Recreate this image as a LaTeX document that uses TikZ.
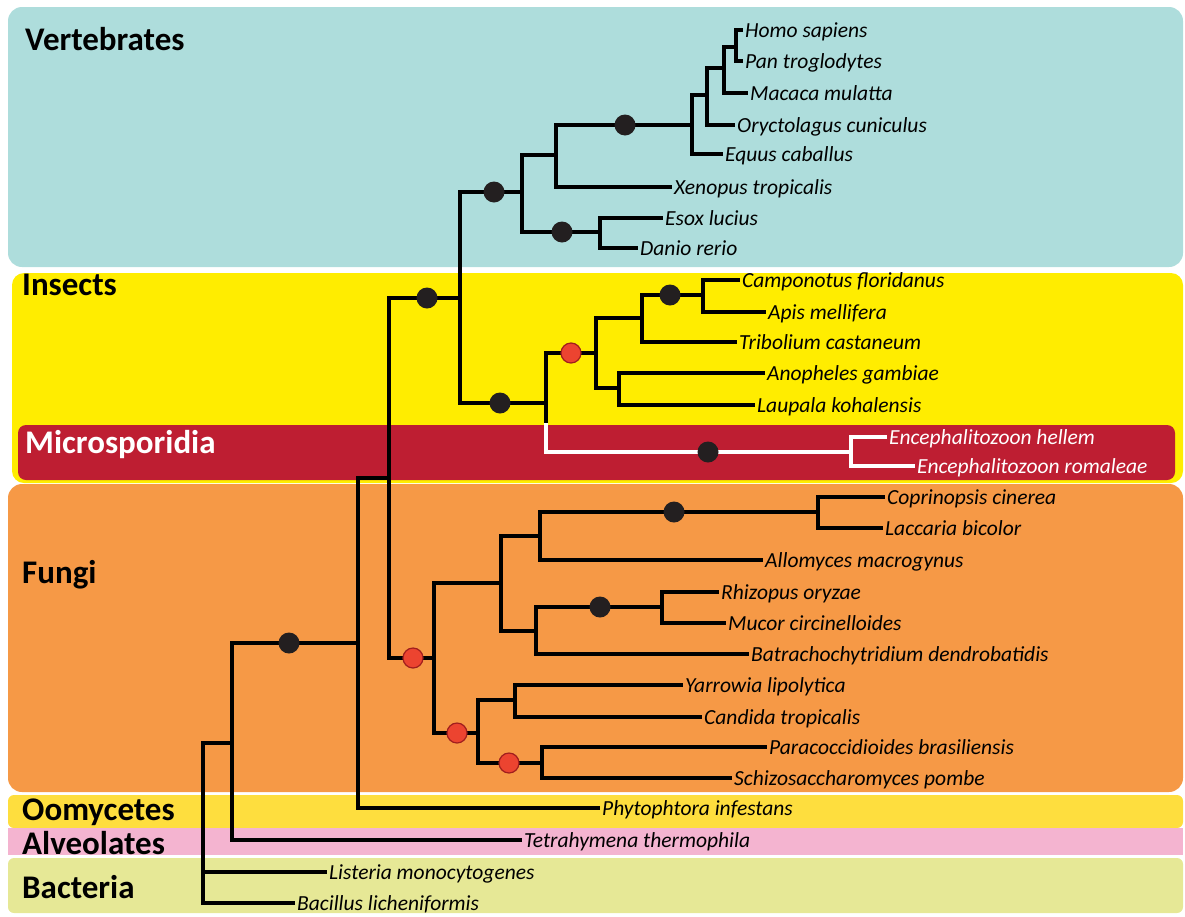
\documentclass[tikz,border=0pt]{standalone}
\usepackage{fontspec}
\setmainfont{Carlito}
\definecolor{vertband}{RGB}{174,221,220}
\definecolor{insband}{RGB}{255,237,0}
\definecolor{micband}{RGB}{190,30,50}
\definecolor{fungband}{RGB}{246,153,70}
\definecolor{oomyband}{RGB}{254,222,62}
\definecolor{alveband}{RGB}{244,180,208}
\definecolor{bactband}{RGB}{230,232,150}
\definecolor{dotred}{RGB}{236,68,48}
\definecolor{dotedge}{RGB}{160,30,30}
\definecolor{dotblack}{RGB}{35,31,32}
\tikzset{
  branch/.style={line width=3.4pt, line cap=rect, color=black},
  whitebranch/.style={branch, color=white},
  leaf/.style={anchor=west, inner xsep=4pt, inner ysep=0pt, text height=14pt, text depth=0pt,
    font=\fontsize{21.5}{25}\selectfont\itshape},
  whiteleaf/.style={leaf, text=white},
  group/.style={anchor=base west, inner sep=0pt, font=\fontsize{33}{36}\selectfont\bfseries},
  bdot/.style={circle, fill=dotblack, inner sep=0pt, minimum size=21pt},
  rdot/.style={circle, fill=dotred, draw=dotedge, line width=1.2pt, inner sep=0pt, minimum size=20pt},
}
\begin{document}
\begin{tikzpicture}[x=1pt,y=1pt,yscale=-1]
    \useasboundingbox (0,0) rectangle (1185,916);

    %Bands
    \fill [vertband, rounded corners=14pt] (8,7) rectangle (1183,267);
    \fill [insband, rounded corners=12pt] (12,273) rectangle (1183,483);
    \fill [micband, rounded corners=8pt] (18,425) rectangle (1175,480);
    \fill [fungband, rounded corners=14pt] (8,484) rectangle (1183,792);
    \fill [oomyband, rounded corners=6pt] (8,795) rectangle (1183,828);
    \fill [alveband] (8,828) rectangle (1183,855);
    \fill [bactband, rounded corners=6pt] (8,858) rectangle (1183,913);

    % Group labels
    \node [group] (lvert) at (25,50) {Vertebrates};
    \node [group] (lins) at (22,295) {Insects};
    \node [group, text=white] (lmic) at (25,453) {Microsporidia};
    \node [group] (lfung) at (22,583) {Fungi};
    \node [group] (loomy) at (22,820) {Oomycetes};
    \node [group] (lalve) at (22,854) {Alveolates};
    \node [group] (lbact) at (22,898) {Bacteria};

    %Inner nodes
    \coordinate (root) at (203,743);
    \coordinate (euk) at (232,743);
    \coordinate (opis) at (358,643);
    \coordinate (crown) at (389,478);
    \coordinate (anim) at (460,298);
    \coordinate (vert) at (522,192);
    \coordinate (tetra) at (556,155);
    \coordinate (mamm) at (692,125);
    \coordinate (eutha) at (707,95);
    \coordinate (prim) at (724,68);
    \coordinate (homin) at (736,47);
    \coordinate (fish) at (600,232);
    \coordinate (insmic) at (546,403);
    \coordinate (micedge) at (546,425);
    \coordinate (ins) at (596,353);
    \coordinate (holo) at (642,318);
    \coordinate (hymen) at (703,295);
    \coordinate (orth) at (619,388);
    \coordinate (micro) at (851,452);
    \coordinate (fungi) at (434,658);
    \coordinate (fupper) at (501,583);
    \coordinate (fbasid) at (540,536);
    \coordinate (agar) at (818,512);
    \coordinate (fzygo) at (536,631);
    \coordinate (mucor) at (662,607);
    \coordinate (asco) at (478,733);
    \coordinate (yeast) at (515,700);
    \coordinate (pezi) at (542,763);

    % Text Node (leaves)
    \node [leaf] (homo) at (741,30) {Homo sapiens};
    \node [leaf] (pan) at (741,61) {Pan troglodytes};
    \node [leaf] (macaca) at (746,93) {Macaca mulatta};
    \node [leaf] (oryct) at (733,125) {Oryctolagus cuniculus};
    \node [leaf] (equus) at (721,154) {Equus caballus};
    \node [leaf] (xenop) at (670,187) {Xenopus tropicalis};
    \node [leaf] (esox) at (661,218) {Esox lucius};
    \node [leaf] (danio) at (636,248) {Danio rerio};
    \node [leaf] (campo) at (738,280) {Camponotus floridanus};
    \node [leaf] (apis) at (764,312) {Apis mellifera};
    \node [leaf] (tribol) at (735,342) {Tribolium castaneum};
    \node [leaf] (anoph) at (763,373) {Anopheles gambiae};
    \node [leaf] (laupa) at (753,405) {Laupala kohalensis};
    \node [whiteleaf] (hellem) at (885,437) {Encephalitozoon hellem};
    \node [whiteleaf] (romal) at (913,466) {Encephalitozoon romaleae};
    \node [leaf] (coprin) at (883,497) {Coprinopsis cinerea};
    \node [leaf] (laccar) at (881,528) {Laccaria bicolor};
    \node [leaf] (allom) at (761,560) {Allomyces macrogynus};
    \node [leaf] (rhizo) at (717,592) {Rhizopus oryzae};
    \node [leaf] (mucci) at (724,623) {Mucor circinelloides};
    \node [leaf] (batra) at (747,654) {Batrachochytridium dendrobatidis};
    \node [leaf] (yarro) at (681,685) {Yarrowia lipolytica};
    \node [leaf] (candi) at (700,717) {Candida tropicalis};
    \node [leaf] (parac) at (765,747) {Paracoccidioides brasiliensis};
    \node [leaf] (schiz) at (730,778) {Schizosaccharomyces pombe};
    \node [leaf] (phyto) at (598,808) {Phytophtora infestans};
    \node [leaf] (tetrah) at (520,840) {Tetrahymena thermophila};
    \node [leaf] (liste) at (325,872) {Listeria monocytogenes};
    \node [leaf] (bacil) at (293,903) {Bacillus licheniformis};

    %Branches between inner nodes
    \foreach \p/\c in {root/euk, euk/opis, opis/crown, crown/anim, anim/vert, vert/tetra,
        tetra/mamm, mamm/eutha, eutha/prim, prim/homin, vert/fish, anim/insmic, insmic/micedge,
        insmic/ins, ins/holo, holo/hymen, ins/orth, crown/fungi, fungi/fupper, fupper/fbasid,
        fbasid/agar, fupper/fzygo, fzygo/mucor, fungi/asco, asco/yeast, asco/pezi}
      \draw [branch] (\p) |- (\c);
    \draw [whitebranch] (micedge) |- (micro);

    %Branches to leaves
    \foreach \p/\c in {homin/homo, homin/pan, prim/macaca, eutha/oryct, mamm/equus, tetra/xenop,
        fish/esox, fish/danio, hymen/campo, hymen/apis, holo/tribol, orth/anoph, orth/laupa,
        agar/coprin, agar/laccar, fbasid/allom, mucor/rhizo, mucor/mucci, fzygo/batra,
        yeast/yarro, yeast/candi, pezi/parac, pezi/schiz, opis/phyto, euk/tetrah,
        root/liste, root/bacil}
      \draw [branch] (\p) |- (\c.west);
    \foreach \c in {hellem, romal}
      \draw [whitebranch] (micro) |- (\c.west);

    %Support dots
    \node [bdot] (sopis) at (289,643) {};
    \node [bdot] (sanim) at (427,298) {};
    \node [bdot] (svert) at (494,192) {};
    \node [bdot] (smamm) at (625,125) {};
    \node [bdot] (sfish) at (562,232) {};
    \node [bdot] (sinsmic) at (500,403) {};
    \node [rdot] (sins) at (571,353) {};
    \node [bdot] (shymen) at (670,295) {};
    \node [bdot] (smicro) at (708,452) {};
    \node [rdot] (sfungi) at (413,658) {};
    \node [bdot] (sagar) at (674,512) {};
    \node [bdot] (smucor) at (600,607) {};
    \node [rdot] (sasco) at (457,733) {};
    \node [rdot] (spezi) at (509,763) {};

\end{tikzpicture}
\end{document}
